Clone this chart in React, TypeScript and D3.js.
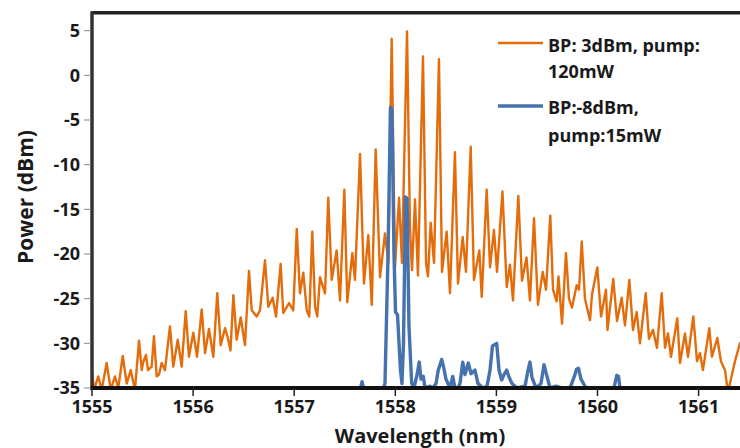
import React from 'react';
import * as d3 from 'd3';

const W = 740;
const H = 448;

const xTicks = [1555, 1556, 1557, 1558, 1559, 1560, 1561];
const yTicks = [5, 0, -5, -10, -15, -20, -25, -30, -35];

const xTitle = 'Wavelength (nm)';
const yTitle = 'Power (dBm)';
const legendOrange = ['BP: 3dBm, pump:', '120mW'];
const legendBlue = ['BP:-8dBm,', 'pump:15mW'];

const orangeColor = '#E46C0A';
const blueColor = '#4772B0';

// BP: 3dBm, pump: 120mW  [wavelength nm, power dBm]
const orangeSeries: [number, number][] = [
  [1555.000,-33.2],[1555.020,-35.2],[1555.062,-33.7],[1555.096,-35.2],[1555.145,-32.2],[1555.185,-35.2],
  [1555.227,-33.7],[1555.260,-35.0],[1555.304,-31.4],[1555.343,-34.5],[1555.383,-33.0],[1555.425,-35.2],
  [1555.465,-29.7],[1555.492,-33.0],[1555.504,-32.2],[1555.534,-31.3],[1555.554,-33.0],[1555.590,-32.6],
  [1555.613,-29.2],[1555.640,-33.7],[1555.663,-33.5],[1555.689,-32.2],[1555.722,-33.0],[1555.771,-28.1],
  [1555.804,-32.6],[1555.848,-29.6],[1555.887,-32.6],[1555.927,-26.4],[1555.959,-31.5],[1556.002,-28.8],
  [1556.039,-31.5],[1556.085,-26.2],[1556.118,-31.1],[1556.157,-28.4],[1556.200,-31.5],[1556.239,-24.4],
  [1556.273,-30.2],[1556.316,-28.3],[1556.348,-29.6],[1556.370,-30.8],[1556.398,-24.6],[1556.431,-29.6],
  [1556.471,-27.1],[1556.513,-30.2],[1556.553,-21.9],[1556.580,-26.3],[1556.629,-27.0],[1556.662,-26.3],
  [1556.711,-20.7],[1556.744,-25.9],[1556.787,-24.9],[1556.820,-27.0],[1556.866,-21.1],[1556.892,-26.6],
  [1556.949,-25.5],[1556.991,-26.3],[1557.025,-17.2],[1557.057,-24.4],[1557.090,-22.1],[1557.124,-26.3],
  [1557.149,-27.0],[1557.179,-17.5],[1557.206,-25.9],[1557.228,-27.0],[1557.255,-22.6],[1557.305,-24.4],
  [1557.337,-13.7],[1557.371,-22.9],[1557.420,-19.6],[1557.453,-25.2],[1557.496,-12.8],[1557.525,-25.4],
  [1557.575,-19.9],[1557.601,-22.9],[1557.651,-8.8],[1557.690,-23.3],[1557.733,-17.9],[1557.767,-25.7],
  [1557.806,-8.3],[1557.849,-22.6],[1557.898,-17.7],[1557.931,-21.0],[1557.964,4.1],[1557.997,-21.5],
  [1558.037,-13.7],[1558.066,-21.0],[1558.116,4.9],[1558.145,-17.0],[1558.165,-21.8],[1558.195,-13.9],
  [1558.224,-22.4],[1558.274,2.1],[1558.304,-21.0],[1558.323,-22.5],[1558.350,-16.5],[1558.383,-21.0],
  [1558.432,1.8],[1558.462,-22.0],[1558.508,-17.5],[1558.541,-24.4],[1558.590,-8.6],[1558.620,-23.3],
  [1558.667,-18.1],[1558.699,-22.0],[1558.746,-8.0],[1558.778,-22.9],[1558.831,-19.6],[1558.855,-24.8],
  [1558.904,-12.8],[1558.937,-21.5],[1558.976,-17.3],[1559.006,-22.0],[1559.060,-13.0],[1559.102,-23.7],
  [1559.134,-21.2],[1559.164,-25.2],[1559.217,-13.5],[1559.253,-23.0],[1559.298,-20.4],[1559.332,-25.2],
  [1559.372,-16.0],[1559.411,-25.7],[1559.458,-22.0],[1559.491,-24.0],[1559.533,-15.7],[1559.560,-24.0],
  [1559.596,-25.3],[1559.614,-22.5],[1559.649,-27.8],[1559.688,-19.9],[1559.718,-25.0],[1559.748,-26.0],
  [1559.794,-23.5],[1559.817,-24.0],[1559.844,-18.6],[1559.876,-25.0],[1559.926,-27.4],[1559.946,-24.5],
  [1559.998,-21.5],[1560.035,-27.0],[1560.084,-24.0],[1560.099,-28.5],[1560.156,-22.8],[1560.193,-27.5],
  [1560.239,-24.9],[1560.272,-28.0],[1560.315,-22.9],[1560.351,-28.5],[1560.388,-26.5],[1560.420,-30.0],
  [1560.477,-24.4],[1560.509,-29.5],[1560.549,-28.5],[1560.588,-30.5],[1560.635,-24.4],[1560.668,-30.5],
  [1560.697,-28.9],[1560.727,-31.5],[1560.789,-27.2],[1560.816,-32.2],[1560.865,-28.9],[1560.895,-31.5],
  [1560.948,-27.0],[1560.984,-32.0],[1561.014,-31.1],[1561.043,-33.0],[1561.106,-28.3],[1561.132,-31.5],
  [1561.185,-29.4],[1561.221,-32.0],[1561.261,-33.0],[1561.291,-35.5],[1561.320,-34.0],[1561.360,-32.0],
  [1561.409,-30.0],[1561.450,-29.5]
];

// BP: -8dBm, pump: 15mW  [wavelength nm, power dBm]
const blueSeries: [number, number][] = [
  [1557.453,-35.5],[1557.651,-35.2],[1557.671,-34.3],[1557.690,-35.2],[1557.878,-35.2],[1557.898,-34.5],
  [1557.928,-20.0],[1557.952,-3.6],[1557.967,-3.8],[1557.987,-20.0],[1558.002,-26.5],[1558.022,-26.8],
  [1558.037,-30.0],[1558.051,-33.0],[1558.066,-34.5],[1558.081,-30.0],[1558.101,-13.6],[1558.116,-13.8],
  [1558.135,-28.0],[1558.162,-34.5],[1558.185,-35.0],[1558.215,-33.5],[1558.237,-32.1],[1558.254,-34.0],
  [1558.277,-33.7],[1558.294,-35.0],[1558.343,-34.8],[1558.373,-35.0],[1558.403,-34.5],[1558.425,-33.0],
  [1558.459,-31.8],[1558.477,-32.6],[1558.501,-34.0],[1558.541,-35.0],[1558.568,-33.7],[1558.590,-35.0],
  [1558.620,-35.0],[1558.640,-34.5],[1558.667,-32.1],[1558.689,-33.5],[1558.722,-32.2],[1558.749,-33.4],
  [1558.788,-33.0],[1558.818,-34.5],[1558.867,-35.0],[1558.907,-34.8],[1558.937,-33.0],[1558.961,-30.3],
  [1559.003,-30.0],[1559.026,-33.0],[1559.052,-34.1],[1559.075,-33.5],[1559.102,-33.0],[1559.125,-33.8],
  [1559.154,-34.5],[1559.204,-35.0],[1559.283,-34.8],[1559.313,-33.0],[1559.332,-32.1],[1559.352,-33.8],
  [1559.392,-35.0],[1559.441,-34.5],[1559.471,-32.4],[1559.496,-33.5],[1559.530,-35.0],[1559.589,-34.8],
  [1559.649,-35.0],[1559.728,-35.0],[1559.777,-33.5],[1559.792,-32.9],[1559.812,-32.8],[1559.837,-34.0],
  [1559.886,-35.0],[1560.025,-35.0],[1560.163,-35.0],[1560.190,-33.6],[1560.208,-33.7],[1560.222,-35.0],
  [1560.371,-35.3]
];

const FONT = '"Open Sans", "Noto Sans", sans-serif';

export default function App() {
  const x = d3.scaleLinear().domain([1555, 1562]).range([92, 799.7]);
  const y = d3.scaleLinear().domain([-35, 7]).range([388, 12.8]);
  const line = d3
    .line<[number, number]>()
    .x((d) => x(d[0]))
    .y((d) => y(d[1]));

  const left = x(1555);
  const top = y(7);
  const bottom = y(-35);
  const textColor = '#1a1a1a';

  return (
    <svg
      width={W}
      height={H}
      viewBox={`0 0 ${W} ${H}`}
      style={{ position: 'absolute', left: 0, top: 0, display: 'block', background: '#fff' }}
    >
      <defs>
        <clipPath id="plotClip">
          <rect x={left} y={top} width={W - left + 80} height={bottom - top} />
        </clipPath>
      </defs>
      <rect x={0} y={0} width={W} height={H} fill="#fff" />

      <g clipPath="url(#plotClip)">
        <path d={line(orangeSeries) || ''} fill="none" stroke={orangeColor} strokeWidth={2.4} strokeLinejoin="round" />
        <path d={line(blueSeries) || ''} fill="none" stroke={blueColor} strokeWidth={3.4} strokeLinejoin="round" />
      </g>

      {/* frame */}
      <line x1={left} x2={W + 10} y1={top} y2={top} stroke="#222" strokeWidth={3.5} />
      <line x1={left} x2={left} y1={top - 1.5} y2={bottom + 2} stroke="#333" strokeWidth={3.5} />
      <line x1={left - 1.5} x2={W + 10} y1={bottom} y2={bottom} stroke="#111" strokeWidth={4} />

      {/* y ticks */}
      {yTicks.map((t) => (
        <g key={t}>
          <line x1={left - 8} x2={left - 1} y1={y(t)} y2={y(t)} stroke="#888" strokeWidth={1} />
          <text
            x={80}
            y={y(t)}
            dy="0.36em"
            textAnchor="end"
            fontFamily={FONT}
            fontWeight={700}
            fontSize={18}
            fill={textColor}
          >
            {t}
          </text>
        </g>
      ))}

      {/* x ticks */}
      {xTicks.map((t) => (
        <g key={t}>
          <line x1={x(t)} x2={x(t)} y1={bottom} y2={bottom + 8} stroke="#222" strokeWidth={1.5} />
          <text
            x={x(t)}
            y={413}
            textAnchor="middle"
            fontFamily={FONT}
            fontWeight={700}
            fontSize={18}
            fill={textColor}
          >
            {t}
          </text>
        </g>
      ))}

      {/* axis titles */}
      <text x={420} y={443} textAnchor="middle" fontFamily={FONT} fontWeight={700} fontSize={20} fill={textColor}>
        {xTitle}
      </text>
      <text
        transform={`translate(33,197) rotate(-90)`}
        textAnchor="middle"
        fontFamily={FONT}
        fontWeight={700}
        fontSize={21}
        fill={textColor}
      >
        {yTitle}
      </text>

      {/* legend */}
      <line x1={498} x2={543} y1={43} y2={43} stroke={orangeColor} strokeWidth={2.4} />
      <text x={548} y={52} fontFamily={FONT} fontWeight={700} fontSize={18} fill={textColor}>
        {legendOrange[0]}
      </text>
      <text x={548} y={78} fontFamily={FONT} fontWeight={700} fontSize={18} fill={textColor}>
        {legendOrange[1]}
      </text>
      <line x1={498} x2={543} y1={106} y2={106} stroke={blueColor} strokeWidth={3.4} />
      <text x={548} y={114} fontFamily={FONT} fontWeight={700} fontSize={18} fill={textColor}>
        {legendBlue[0]}
      </text>
      <text x={548} y={142} fontFamily={FONT} fontWeight={700} fontSize={18} fill={textColor}>
        {legendBlue[1]}
      </text>
    </svg>
  );
}
